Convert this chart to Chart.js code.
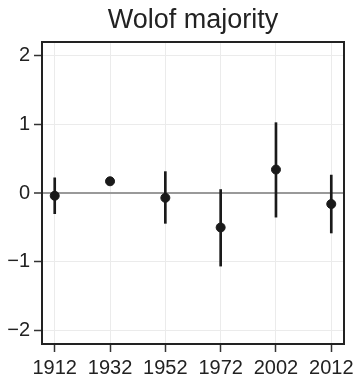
<!DOCTYPE html>
<html>
<head>
<meta charset="utf-8">
<script src="https://cdn.jsdelivr.net/npm/chart.js@4/dist/chart.umd.min.js"></script>
<style>
  html, body { margin: 0; padding: 0; background: #ffffff; }
  #wrap { width: 353px; height: 382px; }
</style>
</head>
<body>
<div id="wrap"><canvas id="c" width="353" height="382"></canvas></div>
<script>
// Census years and the estimated effect with its interval for each
const years = ['1912', '1932', '1952', '1972', '2002', '2012'];
const estimate = [-0.04, 0.17, -0.07, -0.50, 0.34, -0.16];
const lower = [-0.30, null, -0.44, -1.06, -0.35, -0.58];
const upper = [0.22, null, 0.31, 0.05, 1.02, 0.26];
const yTicks = [-2, -1, 0, 1, 2];
const yLabels = ['−2', '−1', '0', '1', '2'];
const titleText = 'Wolof majority';

const ink = '#1a1a1a';
const gridGrey = '#ebebeb';
const fontFamily = 'Liberation Sans, Arial, sans-serif';

const pointData = estimate.map((v, i) => ({ x: i, y: v }));
const barData = years.map((_, i) =>
  lower[i] === null ? { x: i, y: null } : { x: i, y: [lower[i], upper[i]] });

// Dark frame around the plotting area, and the title centred over it
const framePlugin = {
  id: 'frame',
  afterDraw(chart) {
    const a = chart.chartArea;
    const ctx = chart.ctx;
    ctx.save();
    ctx.strokeStyle = '#222222';
    ctx.lineWidth = 2;
    ctx.strokeRect(a.left, a.top, a.right - a.left, a.bottom - a.top);
    ctx.fillStyle = '#222222';
    ctx.font = '27px ' + fontFamily;
    ctx.textAlign = 'center';
    ctx.textBaseline = 'alphabetic';
    ctx.fillText(titleText, (a.left + a.right) / 2, 27.5);
    ctx.restore();
  }
};

new Chart(document.getElementById('c'), {
  data: {
    datasets: [
      {
        type: 'scatter',
        data: pointData,
        backgroundColor: ink,
        borderColor: ink,
        pointRadius: 4.5,
        pointHoverRadius: 4.5,
        showLine: false,
        order: 0
      },
      {
        type: 'bar',
        data: barData,
        backgroundColor: ink,
        borderWidth: 0,
        barThickness: 2,
        grouped: false,
        order: 1
      }
    ]
  },
  options: {
    responsive: false,
    animation: false,
    events: [],
    layout: { padding: { left: 0, right: 9, top: 42, bottom: 0 } },
    plugins: {
      legend: { display: false },
      tooltip: { enabled: false },
      title: { display: false }
    },
    scales: {
      x: {
        type: 'linear',
        offset: false,
        min: -0.23,
        max: 5.23,
        afterBuildTicks(scale) {
          scale.ticks = years.map((_, i) => ({ value: i }));
        },
        afterFit(scale) {
          scale.height = 38;
          // the end labels may run into the margin
          scale.paddingLeft = 0;
          scale.paddingRight = 0;
        },
        ticks: {
          autoSkip: false,
          maxRotation: 0,
          padding: 4,
          color: '#222222',
          font: { family: fontFamily, size: 20 },
          callback: (v) => years[v]
        },
        grid: {
          offset: false,
          color: gridGrey,
          lineWidth: 1,
          tickLength: 8,
          tickColor: '#333333',
          tickWidth: 1.5
        },
        border: { display: false }
      },
      y: {
        type: 'linear',
        min: -2.19,
        max: 2.19,
        afterBuildTicks(scale) {
          scale.ticks = yTicks.map(v => ({ value: v }));
        },
        afterFit(scale) {
          scale.width = 42;
          scale.paddingTop = 0;
          scale.paddingBottom = 0;
        },
        ticks: {
          padding: 4,
          color: '#222222',
          font: { family: fontFamily, size: 20 },
          callback: (v) => yLabels[yTicks.indexOf(v)]
        },
        grid: {
          color: (c) => (c.tick && c.tick.value === 0 ? '#999999' : gridGrey),
          lineWidth: (c) => (c.tick && c.tick.value === 0 ? 2 : 1),
          tickLength: 8,
          tickColor: '#333333',
          tickWidth: 1.5
        },
        border: { display: false }
      }
    }
  },
  plugins: [framePlugin]
});
</script>
</body>
</html>
